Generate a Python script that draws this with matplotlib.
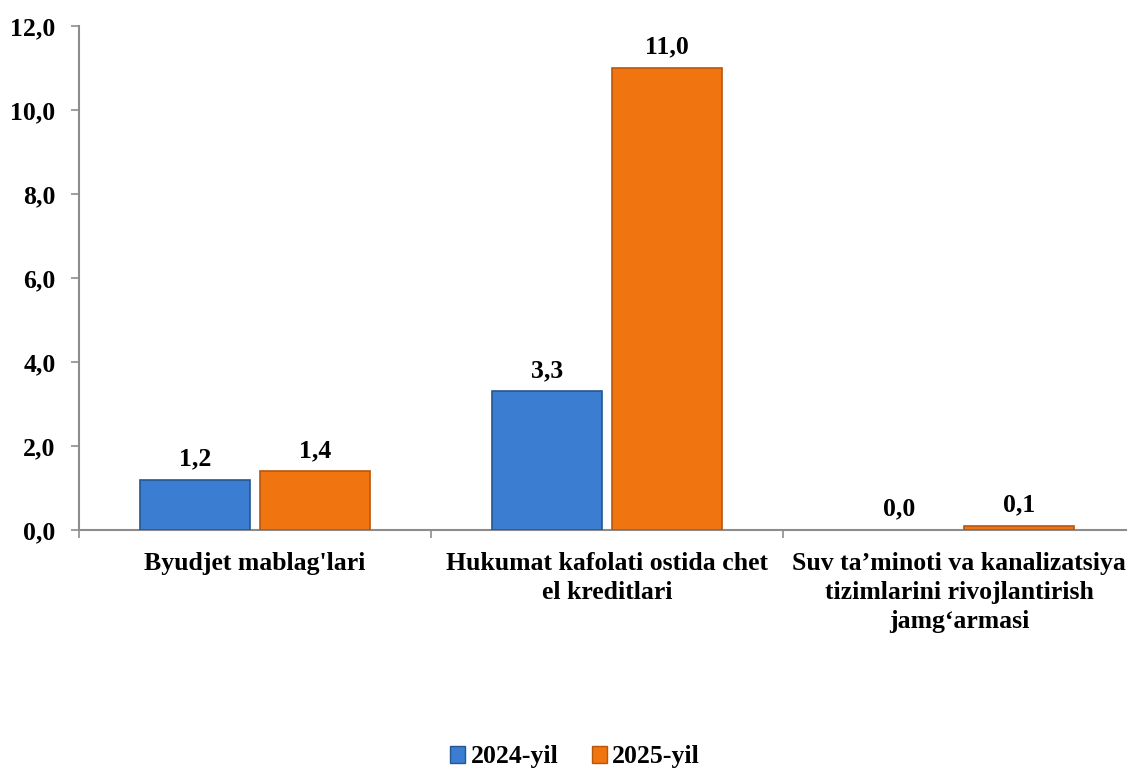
import numpy as np
import matplotlib

matplotlib.use("Agg")
import matplotlib.pyplot as plt
from matplotlib.patches import Patch

categories = [
    "Byudjet mablag'lari",
    "Hukumat kafolati ostida chet\nel kreditlari",
    "Suv ta\u2019minoti va kanalizatsiya\ntizimlarini rivojlantirish\njamg\u2018armasi",
]
series_names = ["2024-yil", "2025-yil"]
values_2024 = [1.2, 3.3, 0.0]
values_2025 = [1.4, 11.0, 0.1]
y_ticks = [0, 2, 4, 6, 8, 10, 12]

plt.rcParams["font.family"] = ["Liberation Serif", "DejaVu Serif"]
plt.rcParams["font.weight"] = "bold"
FS = 18.5

W, H = 1127, 779
fig = plt.figure(figsize=(W / 100, H / 100), dpi=100)
# axes in pixel coords: x 79..1135, y 26..530
ax = fig.add_axes([79 / W, (H - 530) / H, (1135 - 79) / W, (530 - 26) / H])

colors = {"2024-yil": "#3B7DD0", "2025-yil": "#F07511"}
edges = {"2024-yil": "#24578F", "2025-yil": "#B9560A"}

x = np.arange(len(categories))
bw = 0.3125
off = 0.17
for vals, name, sgn in [(values_2024, series_names[0], -1), (values_2025, series_names[1], 1)]:
    xs = x + sgn * off
    lw = [1.2 if v > 0 else 0 for v in vals]
    ax.bar(xs, vals, width=bw, color=colors[name], edgecolor=edges[name], linewidth=lw, zorder=3)
    for xi, v in zip(xs, vals):
        ax.text(xi, v + 0.22, f"{v:.1f}".replace(".", ","), ha="center", va="bottom",
                fontsize=FS, fontweight="bold")

ax.set_xlim(-0.5, 2.5)
ax.set_ylim(0, 12)
ax.set_yticks(y_ticks)
ax.set_yticklabels([f"{t:.1f}".replace(".", ",") for t in y_ticks], fontsize=FS, fontweight="bold")
ax.set_xticks([-0.5, 0.5, 1.5, 2.5])
ax.set_xticklabels([])
ax.tick_params(axis="both", color="#8c8c8c", length=6, width=1.2, direction="out")
ax.tick_params(axis="y", pad=11)
for s in ["top", "right"]:
    ax.spines[s].set_visible(False)
for s in ["left", "bottom"]:
    ax.spines[s].set_color("#8c8c8c")
    ax.spines[s].set_linewidth(1.5)

for xi, lab in zip(x, categories):
    ax.text(xi, -0.52, lab, ha="center", va="top", fontsize=FS, fontweight="bold",
            linespacing=1.33, transform=ax.transData)

handles = [Patch(facecolor=colors[n], edgecolor=edges[n], label=n) for n in series_names]
fig.legend(handles=handles, loc="center", bbox_to_anchor=(575 / W, (H - 757) / H), ncol=2,
           frameon=False, handlelength=0.6, handleheight=0.6,
           handletextpad=0.2, columnspacing=1.3, prop={"weight": "bold", "size": FS})

fig.savefig("out.png", dpi=100)
